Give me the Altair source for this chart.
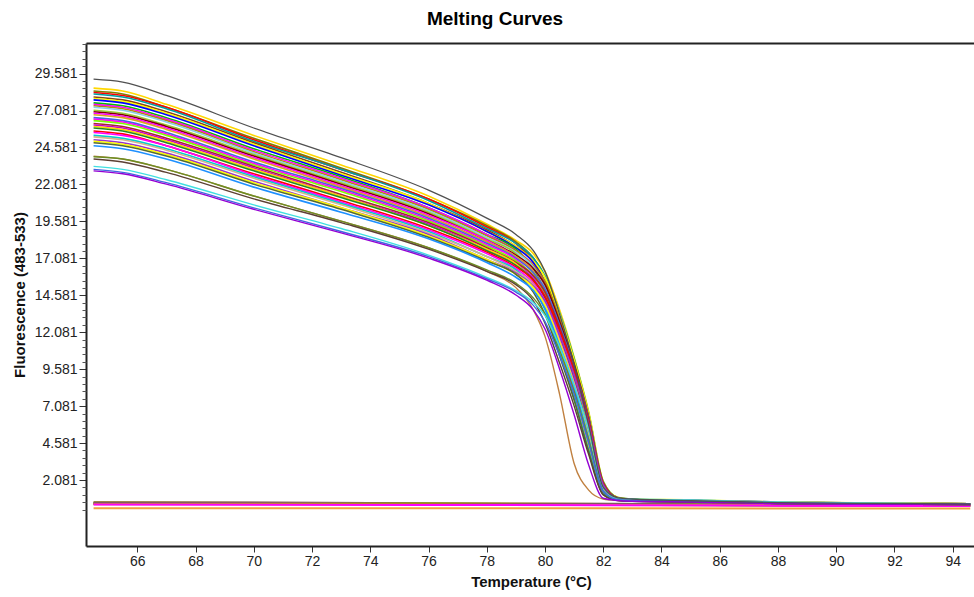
import altair as alt
import pandas as pd

FONT = "Liberation Sans"

TEMPS = [64.5, 65.5, 67, 70, 73, 76, 78, 79, 79.6, 80.0, 80.5, 81.0, 81.5, 82.0, 82.5, 83.0, 85, 88, 91, 94.6]

TOP_CURVE = [29.2, 29.0, 28.1, 25.9, 23.9, 21.7, 19.8, 18.7, 17.6, 16.2, 13.3, 9.9, 5.8, 1.6, 0.88, 0.8, 0.68, 0.56, 0.5, 0.46]
TOP_COLOR = "#505050"

MAIN_CURVES = [
    [28.6, 28.4, 27.5, 25.4, 23.4, 21.3, 19.4, 18.3, 17.4, 16.2, 13.6, 10.4, 6.7, 2.0, 0.92, 0.8, 0.68, 0.56, 0.5, 0.46],
    [28.4, 28.2, 27.3, 25.2, 23.2, 21.1, 19.3, 18.2, 17.1, 15.8, 12.9, 9.7, 5.7, 1.56, 0.85, 0.77, 0.64, 0.52, 0.47, 0.44],
    [28.3, 28.1, 27.3, 25.1, 23.1, 21.1, 19.2, 18.1, 16.8, 15.1, 11.9, 8.5, 4.5, 1.27, 0.82, 0.76, 0.7, 0.58, 0.52, 0.47],
    [28.2, 28.0, 27.2, 25.0, 23.1, 21.0, 19.1, 18.1, 17.1, 15.9, 13.4, 10.3, 6.6, 1.97, 0.9, 0.79, 0.6, 0.5, 0.46, 0.43],
    [28.0, 27.8, 27.0, 24.9, 22.9, 20.8, 19.0, 17.9, 16.9, 15.5, 12.7, 9.5, 5.6, 1.54, 0.84, 0.76, 0.68, 0.56, 0.5, 0.46],
    [27.9, 27.7, 26.9, 24.8, 22.8, 20.8, 18.9, 17.9, 16.9, 15.8, 13.3, 10.2, 6.6, 1.95, 0.89, 0.78, 0.74, 0.6, 0.53, 0.48],
    [27.8, 27.6, 26.8, 24.7, 22.7, 20.7, 18.9, 17.8, 16.8, 15.4, 12.6, 9.5, 5.6, 1.53, 0.83, 0.75, 0.64, 0.52, 0.47, 0.44],
    [27.6, 27.4, 26.6, 24.5, 22.6, 20.5, 18.7, 17.7, 16.4, 14.8, 11.6, 8.3, 4.4, 1.24, 0.8, 0.75, 0.7, 0.58, 0.52, 0.47],
    [27.5, 27.3, 26.5, 24.4, 22.5, 20.5, 18.7, 17.6, 16.6, 15.3, 12.5, 9.4, 5.5, 1.51, 0.83, 0.74, 0.6, 0.5, 0.46, 0.43],
    [27.4, 27.2, 26.4, 24.3, 22.4, 20.4, 18.6, 17.6, 16.6, 15.5, 13.0, 10.0, 6.4, 1.92, 0.88, 0.77, 0.68, 0.56, 0.5, 0.46],
    [27.3, 27.1, 26.3, 24.2, 22.3, 20.3, 18.5, 17.5, 16.5, 15.2, 12.4, 9.3, 5.5, 1.5, 0.82, 0.74, 0.72, 0.6, 0.53, 0.48],
    [27.1, 26.9, 26.1, 24.1, 22.2, 20.2, 18.4, 17.4, 16.1, 14.5, 11.4, 8.1, 4.3, 1.22, 0.79, 0.73, 0.64, 0.52, 0.47, 0.44],
    [27.0, 26.8, 26.0, 24.0, 22.1, 20.1, 18.3, 17.3, 16.4, 15.3, 12.8, 9.9, 6.3, 1.89, 0.86, 0.76, 0.7, 0.58, 0.52, 0.47],
    [26.9, 26.7, 25.9, 23.9, 22.0, 20.0, 18.3, 17.2, 16.2, 14.9, 12.2, 9.1, 5.4, 1.48, 0.81, 0.73, 0.6, 0.5, 0.46, 0.43],
    [26.8, 26.6, 25.8, 23.8, 21.9, 19.9, 18.2, 17.2, 16.2, 14.9, 12.2, 9.1, 5.4, 1.47, 0.8, 0.72, 0.68, 0.56, 0.5, 0.46],
    [26.6, 26.4, 25.6, 23.6, 21.8, 19.8, 18.1, 17.1, 16.1, 15.0, 12.6, 9.7, 6.3, 1.86, 0.85, 0.74, 0.72, 0.6, 0.53, 0.48],
    [26.5, 26.3, 25.5, 23.5, 21.7, 19.7, 18.0, 17.0, 15.8, 14.2, 11.1, 8.0, 4.2, 1.19, 0.77, 0.72, 0.64, 0.52, 0.47, 0.44],
    [26.4, 26.2, 25.4, 23.4, 21.6, 19.6, 17.9, 16.9, 15.9, 14.7, 12.0, 9.0, 5.3, 1.45, 0.79, 0.71, 0.68, 0.58, 0.52, 0.47],
    [26.2, 26.0, 25.2, 23.3, 21.4, 19.5, 17.8, 16.8, 15.9, 14.8, 12.4, 9.6, 6.2, 1.83, 0.84, 0.73, 0.6, 0.5, 0.46, 0.43],
    [26.1, 25.9, 25.1, 23.2, 21.3, 19.4, 17.7, 16.7, 15.7, 14.5, 11.9, 8.9, 5.2, 1.44, 0.78, 0.7, 0.66, 0.56, 0.5, 0.46],
    [26.0, 25.8, 25.0, 23.1, 21.3, 19.3, 17.7, 16.7, 15.5, 13.9, 10.9, 7.8, 4.2, 1.17, 0.75, 0.7, 0.68, 0.6, 0.53, 0.48],
    [25.9, 25.7, 24.9, 23.0, 21.2, 19.3, 17.6, 16.6, 15.6, 14.4, 11.8, 8.8, 5.2, 1.42, 0.78, 0.7, 0.64, 0.52, 0.47, 0.44],
    [25.7, 25.5, 24.7, 22.8, 21.0, 19.1, 17.5, 16.5, 15.6, 14.5, 12.2, 9.4, 6.0, 1.8, 0.82, 0.72, 0.7, 0.58, 0.52, 0.47],
    [25.6, 25.4, 24.7, 22.7, 20.9, 19.0, 17.4, 16.4, 15.4, 14.2, 11.6, 8.7, 5.1, 1.41, 0.77, 0.69, 0.6, 0.5, 0.46, 0.43],
    [25.4, 25.2, 24.5, 22.6, 20.8, 18.9, 17.2, 16.3, 15.1, 13.6, 10.7, 7.6, 4.1, 1.14, 0.74, 0.69, 0.66, 0.56, 0.5, 0.46],
    [25.3, 25.1, 24.4, 22.5, 20.7, 18.8, 17.2, 16.2, 15.3, 14.0, 11.5, 8.6, 5.1, 1.39, 0.76, 0.68, 0.66, 0.6, 0.53, 0.48],
    [25.1, 24.9, 24.2, 22.3, 20.5, 18.7, 17.0, 16.1, 15.2, 14.2, 11.9, 9.2, 5.9, 1.76, 0.8, 0.7, 0.64, 0.52, 0.47, 0.44],
    [25.0, 24.8, 24.1, 22.2, 20.5, 18.6, 17.0, 16.0, 15.1, 13.9, 11.4, 8.5, 5.0, 1.38, 0.75, 0.68, 0.66, 0.58, 0.52, 0.47],
    [24.9, 24.7, 24.0, 22.1, 20.4, 18.5, 16.9, 16.0, 14.8, 13.3, 10.5, 7.5, 4.0, 1.12, 0.72, 0.67, 0.6, 0.5, 0.46, 0.43],
    [24.7, 24.5, 23.8, 21.9, 20.2, 18.4, 16.8, 15.8, 14.9, 13.7, 11.2, 8.4, 4.9, 1.36, 0.74, 0.67, 0.64, 0.56, 0.5, 0.46],
]
MAIN_COLORS = [
    "#ffd700", "#808000", "#ff0000", "#00a0a0", "#8b4513", "#ffff00", "#0000ff", "#00c000",
    "#ff00ff", "#b8860b", "#87ceeb", "#9acd32", "#800000", "#ff00ff", "#daa520", "#4169e1",
    "#ff00ff", "#7fff00", "#a52a2a", "#cc00cc", "#ffd700", "#228b22", "#ff0000", "#ff00ff",
    "#00ced1", "#d2b48c", "#9932cc", "#ffff00", "#556b2f", "#1e90ff",
]

LOWER_CURVES = [
    [24.0, 23.8, 23.1, 21.3, 19.6, 17.8, 16.2, 15.1, 13.6, 11.8, 7.9, 3.2, 1.4, 0.8, 0.7, 0.66, 0.6, 0.5, 0.46, 0.43],
    [23.95, 23.8, 23.1, 21.3, 19.6, 17.8, 16.3, 15.4, 14.4, 13.3, 10.9, 8.1, 4.8, 1.3, 0.72, 0.66, 0.6, 0.5, 0.46, 0.43],
    [23.8, 23.6, 22.9, 21.1, 19.5, 17.7, 16.2, 15.3, 14.2, 12.7, 10.0, 7.1, 3.8, 1.07, 0.7, 0.65, 0.6, 0.5, 0.46, 0.43],
    [23.3, 23.1, 22.4, 20.7, 19.1, 17.3, 15.8, 14.9, 14.1, 13.2, 11.1, 8.5, 5.5, 1.6, 0.85, 0.8, 0.74, 0.6, 0.53, 0.48],
    [23.1, 22.9, 22.2, 20.5, 18.9, 17.2, 15.7, 14.8, 13.9, 12.8, 10.5, 7.9, 4.6, 1.3, 0.75, 0.7, 0.64, 0.52, 0.47, 0.44],
    [23.0, 22.8, 22.1, 20.4, 18.8, 17.1, 15.6, 14.6, 13.6, 12.3, 9.6, 6.5, 3.1, 0.85, 0.7, 0.65, 0.6, 0.5, 0.46, 0.43],
]
LOWER_COLORS = ["#c08040", "#6b8e23", "#5c4033", "#40e0e0", "#4169e1", "#9400d3"]

# Flat negative-control traces
BASE_TEMPS = [64.5, 70, 76, 82, 88, 94.6]
BASELINES = [
    [0.58, 0.56, 0.52, 0.48, 0.42, 0.38],
    [0.55, 0.53, 0.5, 0.46, 0.41, 0.37],
    [0.52, 0.5, 0.47, 0.44, 0.4, 0.36],
    [0.5, 0.5, 0.46, 0.42, 0.38, 0.35],
    [0.48, 0.47, 0.45, 0.41, 0.36, 0.33],
    [0.45, 0.44, 0.42, 0.4, 0.37, 0.34],
    [0.42, 0.41, 0.4, 0.38, 0.35, 0.32],
    [0.18, 0.18, 0.17, 0.17, 0.16, 0.16],
]
BASE_COLORS = ["#6b4226", "#c8c800", "#4b8b3b", "#9400d3", "#808000", "#d4a017", "#ff00ff", "#f0a040"]

Y_TICKS = [2.081, 4.581, 7.081, 9.581, 12.081, 14.581, 17.081, 19.581, 22.081, 24.581, 27.081, 29.581]
X_TICKS = [66, 68, 70, 72, 74, 76, 78, 80, 82, 84, 86, 88, 90, 92, 94]
Y_MINOR = [round(0.081 + 0.5 * k, 3) for k in range(64) if k % 5 != 4]


def frame(curves, temps, colors, prefix):
    rows = []
    for i, (vals, col) in enumerate(zip(curves, colors)):
        for t, v in zip(temps, vals):
            rows.append({"T": t, "F": v, "c": col, "id": f"{prefix}{i}"})
    return pd.DataFrame(rows)


base_df = frame(BASELINES, BASE_TEMPS, BASE_COLORS, "b")
main_df = frame(MAIN_CURVES, TEMPS, MAIN_COLORS, "m")
lower_df = frame(LOWER_CURVES, TEMPS, LOWER_COLORS, "l")
top_df = frame([TOP_CURVE], TEMPS, [TOP_COLOR], "t")

xs = alt.Scale(domain=[64.24, 94.73], nice=False, zero=False)
ys = alt.Scale(domain=[-2.38, 31.65], nice=False, zero=False)


def lines(df, interp, sw):
    return alt.Chart(df).mark_line(interpolate=interp, strokeWidth=sw, clip=True).encode(
        x=alt.X("T:Q", scale=xs, axis=None),
        y=alt.Y("F:Q", scale=ys, axis=None),
        color=alt.Color("c:N", scale=None),
        detail="id:N",
    )


axes_main = alt.Chart(base_df).mark_point(opacity=0).encode(
    x=alt.X("T:Q", scale=xs, axis=alt.Axis(
        values=X_TICKS, format="d", grid=False, tickSize=6, tickColor="#333", tickWidth=1,
        domainColor="#222", domainWidth=2, labelFont=FONT, labelFontSize=14, labelColor="#222",
        labelPadding=2, title="Temperature (°C)", titleFont=FONT, titleFontSize=15,
        titleFontWeight="bold", titleColor="#111", titleX=445, titleY=35, titleBaseline="middle",
        titleAlign="center")),
    y=alt.Y("F:Q", scale=ys, axis=alt.Axis(
        values=Y_TICKS, format=".3f", grid=False, tickSize=7, tickColor="#333", tickWidth=1,
        domainColor="#222", domainWidth=2, labelFont=FONT, labelFontSize=14, labelColor="#222",
        labelPadding=2, title="Fluorescence (483-533)", titleFont=FONT, titleFontSize=15,
        titleFontWeight="bold", titleColor="#111", titleX=-67, titleY=251.5,
        titleBaseline="middle", titleAlign="center", titleAngle=270)),
)

axes_extra = alt.Chart(base_df).mark_point(opacity=0).encode(
    x=alt.X("T:Q", scale=xs, axis=alt.Axis(
        orient="top", labels=False, ticks=False, grid=False, domainColor="#222",
        domainWidth=2, title=None)),
    y=alt.Y("F:Q", scale=ys, axis=alt.Axis(
        orient="left", values=Y_MINOR, labels=False, domain=False, grid=False,
        tickSize=4, tickColor="#555", tickWidth=1, title=None)),
)

chart = alt.layer(
    lines(base_df, "linear", 2),
    lines(main_df, "monotone", 1.6),
    lines(lower_df, "monotone", 1.4),
    lines(top_df, "monotone", 1.3),
    axes_main,
    axes_extra,
).resolve_axis(x="independent", y="independent").properties(
    width=888,
    height=503,
    title=alt.TitleParams("Melting Curves", font=FONT, fontSize=19, fontWeight="bold",
                          color="#000", anchor="middle", frame="group", dx=-35, offset=14),
    padding={"left": 86, "top": 43, "right": 0, "bottom": 51},
    autosize=alt.AutoSizeParams(type="none"),
).configure_view(stroke=None)

chart.save("out.html", embed_options={"renderer": "svg", "actions": False})
